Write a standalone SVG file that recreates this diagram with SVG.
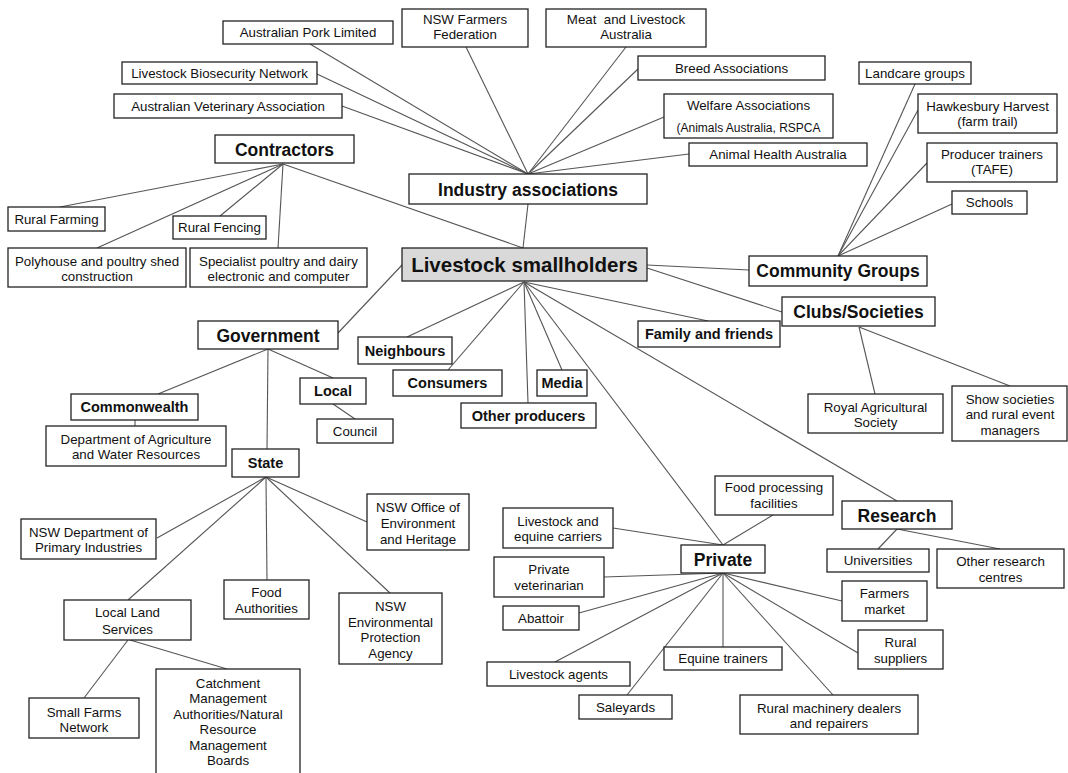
<svg xmlns="http://www.w3.org/2000/svg" width="1068" height="773" viewBox="0 0 1068 773">
<style>
.bg{fill:#fff}
.c line{stroke:#555;stroke-width:1.1}
.n rect{fill:#fff;stroke:#222;stroke-width:1.3}
.n text{font-family:"Liberation Sans",Arial,sans-serif;font-size:13.3px;fill:#111;text-anchor:middle}
.n text.s{font-size:12px}
.n text.b{font-weight:bold;font-size:14.5px}
.n text.h{font-weight:bold;font-size:17.5px}
.n text.m{font-weight:bold;font-size:20.5px}
#livestock-smallholders rect{fill:#d9d9d9}
</style>
<rect class="bg" x="0" y="0" width="1068" height="773"/>
<g id="connectors" class="c">
<line x1="528" y1="174" x2="310" y2="44"/>
<line x1="528" y1="174" x2="317" y2="74"/>
<line x1="528" y1="174" x2="342" y2="106"/>
<line x1="528" y1="174" x2="466" y2="47"/>
<line x1="528" y1="174" x2="626" y2="47"/>
<line x1="528" y1="174" x2="638" y2="69"/>
<line x1="528" y1="174" x2="664" y2="117"/>
<line x1="528" y1="174" x2="689" y2="154"/>
<line x1="528" y1="204" x2="523" y2="248"/>
<line x1="283" y1="164" x2="60" y2="207"/>
<line x1="283" y1="164" x2="97" y2="248"/>
<line x1="283" y1="164" x2="220" y2="216"/>
<line x1="283" y1="164" x2="278" y2="248"/>
<line x1="283" y1="164" x2="523" y2="248"/>
<line x1="838" y1="256" x2="915" y2="84"/>
<line x1="838" y1="256" x2="918" y2="110"/>
<line x1="838" y1="256" x2="927" y2="163"/>
<line x1="838" y1="256" x2="952" y2="204"/>
<line x1="647" y1="265" x2="749" y2="270"/>
<line x1="647" y1="268" x2="782" y2="312"/>
<line x1="859" y1="327" x2="875" y2="394"/>
<line x1="859" y1="327" x2="1010" y2="386"/>
<line x1="524" y1="282" x2="407" y2="337"/>
<line x1="524" y1="282" x2="448" y2="370"/>
<line x1="524" y1="282" x2="528" y2="403"/>
<line x1="524" y1="282" x2="562" y2="370"/>
<line x1="524" y1="282" x2="708" y2="321"/>
<line x1="524" y1="282" x2="723" y2="545"/>
<line x1="524" y1="282" x2="897" y2="501"/>
<line x1="402" y1="265" x2="338" y2="333"/>
<line x1="268" y1="349" x2="158" y2="394"/>
<line x1="268" y1="349" x2="333" y2="378"/>
<line x1="268" y1="349" x2="267" y2="449"/>
<line x1="135" y1="420" x2="135" y2="426"/>
<line x1="333" y1="404" x2="355" y2="419"/>
<line x1="266" y1="477" x2="157" y2="538"/>
<line x1="266" y1="477" x2="128" y2="600"/>
<line x1="266" y1="477" x2="267" y2="580"/>
<line x1="266" y1="477" x2="390" y2="593"/>
<line x1="266" y1="477" x2="367" y2="522"/>
<line x1="128" y1="640" x2="84" y2="698"/>
<line x1="130" y1="640" x2="227" y2="669"/>
<line x1="773" y1="515" x2="723" y2="545"/>
<line x1="613" y1="528" x2="723" y2="545"/>
<line x1="604" y1="577" x2="723" y2="573"/>
<line x1="579" y1="613" x2="723" y2="573"/>
<line x1="555" y1="662" x2="723" y2="573"/>
<line x1="627" y1="695" x2="723" y2="573"/>
<line x1="723" y1="647" x2="723" y2="573"/>
<line x1="842" y1="601" x2="723" y2="573"/>
<line x1="858" y1="653" x2="723" y2="573"/>
<line x1="833" y1="695" x2="723" y2="573"/>
<line x1="897" y1="529" x2="878" y2="549"/>
<line x1="897" y1="529" x2="1000" y2="549"/>
</g>
<g class="n">
<g id="australian-pork"><rect x="223" y="21" width="170" height="23"/><text x="308" y="37">Australian Pork Limited</text></g>
<g id="nsw-farmers"><rect x="402" y="9" width="126" height="38"/><text x="465" y="24">NSW Farmers</text><text x="465" y="39">Federation</text></g>
<g id="mla"><rect x="546" y="9" width="160" height="38"/><text x="626" y="24" xml:space="preserve">Meat  and Livestock</text><text x="626" y="39">Australia</text></g>
<g id="biosecurity"><rect x="122" y="62" width="195" height="22"/><text x="219.5" y="77.5">Livestock Biosecurity Network</text></g>
<g id="ava"><rect x="114" y="94" width="228" height="24"/><text x="228" y="110.5">Australian Veterinary Association</text></g>
<g id="breed"><rect x="638" y="56" width="187" height="24"/><text x="731.5" y="72.5">Breed Associations</text></g>
<g id="welfare"><rect x="664" y="94" width="169" height="44"/><text x="748.5" y="109.5">Welfare Associations</text><text class="s" x="748.5" y="132">(Animals Australia, RSPCA</text></g>
<g id="animal-health"><rect x="689" y="143" width="178" height="23"/><text x="778" y="159">Animal Health Australia</text></g>
<g id="industry"><rect x="409" y="174" width="238" height="30"/><text class="h" x="528" y="195.5">Industry associations</text></g>
<g id="contractors"><rect x="215" y="135" width="139" height="28"/><text class="h" x="284.5" y="155.5">Contractors</text></g>
<g id="rural-farming"><rect x="8" y="207" width="97" height="24"/><text x="56.5" y="223.5">Rural Farming</text></g>
<g id="rural-fencing"><rect x="173" y="216" width="93" height="23"/><text x="219.5" y="232">Rural Fencing</text></g>
<g id="polyhouse"><rect x="8" y="248" width="178" height="39"/><text x="97" y="265.5">Polyhouse and poultry shed</text><text x="97" y="280.5">construction</text></g>
<g id="specialist"><rect x="190" y="248" width="177" height="39"/><text x="278.5" y="265.5">Specialist poultry and dairy</text><text x="278.5" y="280.5">electronic and computer</text></g>
<g id="livestock-smallholders"><rect x="402" y="248" width="245" height="33"/><text class="m" x="524.5" y="272">Livestock smallholders</text></g>
<g id="landcare"><rect x="859" y="62" width="112" height="22"/><text x="915" y="77.5">Landcare groups</text></g>
<g id="hawkesbury"><rect x="918" y="94" width="139" height="39"/><text x="987.5" y="110.5">Hawkesbury Harvest</text><text x="987.5" y="126">(farm trail)</text></g>
<g id="producer-trainers"><rect x="927" y="143" width="130" height="39"/><text x="992" y="158.5">Producer trainers</text><text x="992" y="174">(TAFE)</text></g>
<g id="schools"><rect x="952" y="191" width="75" height="23"/><text x="989.5" y="207">Schools</text></g>
<g id="community"><rect x="749" y="256" width="178" height="30"/><text class="h" x="838" y="277">Community Groups</text></g>
<g id="clubs"><rect x="782" y="297" width="153" height="29"/><text class="h" x="858.5" y="317.5">Clubs/Societies</text></g>
<g id="family"><rect x="638" y="321" width="142" height="26"/><text class="b" x="709" y="339">Family and friends</text></g>
<g id="neighbours"><rect x="358" y="337" width="94" height="27"/><text class="b" x="405" y="355.5">Neighbours</text></g>
<g id="consumers"><rect x="393" y="370" width="109" height="26"/><text class="b" x="447.5" y="388">Consumers</text></g>
<g id="media"><rect x="537" y="370" width="50" height="26"/><text class="b" x="562" y="388">Media</text></g>
<g id="other-producers"><rect x="461" y="403" width="135" height="25"/><text class="b" x="528.5" y="420.5">Other producers</text></g>
<g id="government"><rect x="198" y="321" width="140" height="28"/><text class="h" x="268" y="341.5">Government</text></g>
<g id="commonwealth"><rect x="71" y="394" width="127" height="26"/><text class="b" x="134.5" y="412">Commonwealth</text></g>
<g id="dept-ag"><rect x="46" y="426" width="180" height="40"/><text x="136" y="443.5">Department of Agriculture</text><text x="136" y="458.5">and Water Resources</text></g>
<g id="local"><rect x="300" y="378" width="66" height="26"/><text class="b" x="333" y="396">Local</text></g>
<g id="council"><rect x="317" y="419" width="76" height="24"/><text x="355" y="435.5">Council</text></g>
<g id="state"><rect x="232" y="449" width="67" height="28"/><text class="b" x="265.5" y="468">State</text></g>
<g id="nsw-dpi"><rect x="21" y="519" width="135" height="40"/><text x="88.5" y="536.5">NSW Department of</text><text x="88.5" y="551.5">Primary Industries</text></g>
<g id="nsw-oeh"><rect x="367" y="494" width="102" height="56"/><text x="418" y="511.5">NSW Office of</text><text x="418" y="527.5">Environment</text><text x="418" y="543.5">and Heritage</text></g>
<g id="food-authorities"><rect x="224" y="580" width="85" height="39"/><text x="266.5" y="596.5">Food</text><text x="266.5" y="612.5">Authorities</text></g>
<g id="nsw-epa"><rect x="339" y="593" width="103" height="71"/><text x="390.5" y="610.5">NSW</text><text x="390.5" y="626.5">Environmental</text><text x="390.5" y="641.5">Protection</text><text x="390.5" y="657.5">Agency</text></g>
<g id="lls"><rect x="64" y="600" width="127" height="40"/><text x="127.5" y="616.5">Local Land</text><text x="127.5" y="633.5">Services</text></g>
<g id="small-farms"><rect x="29" y="698" width="110" height="40"/><text x="84" y="716.5">Small Farms</text><text x="84" y="731.5">Network</text></g>
<g id="catchment"><rect x="156" y="669" width="144" height="112"/><text x="228" y="687.5">Catchment</text><text x="228" y="703">Management</text><text x="228" y="718.5">Authorities/Natural</text><text x="228" y="734">Resource</text><text x="228" y="749.5">Management</text><text x="228" y="765">Boards</text></g>
<g id="food-processing"><rect x="715" y="476" width="118" height="39"/><text x="774" y="491.5">Food processing</text><text x="774" y="507.5">facilities</text></g>
<g id="carriers"><rect x="503" y="508" width="110" height="40"/><text x="558" y="525.5">Livestock and</text><text x="558" y="540.5">equine carriers</text></g>
<g id="private-vet"><rect x="494" y="557" width="110" height="40"/><text x="549" y="573.5">Private</text><text x="549" y="589.5">veterinarian</text></g>
<g id="abattoir"><rect x="503" y="606" width="76" height="24"/><text x="541" y="622.5">Abattoir</text></g>
<g id="private"><rect x="681" y="545" width="84" height="28"/><text class="h" x="723" y="565.5">Private</text></g>
<g id="livestock-agents"><rect x="487" y="662" width="143" height="24"/><text x="558.5" y="679">Livestock agents</text></g>
<g id="saleyards"><rect x="579" y="695" width="93" height="24"/><text x="625.5" y="712">Saleyards</text></g>
<g id="equine-trainers"><rect x="664" y="647" width="118" height="23"/><text x="723" y="663">Equine trainers</text></g>
<g id="rural-machinery"><rect x="740" y="695" width="178" height="39"/><text x="829" y="712.5">Rural machinery dealers</text><text x="829" y="727.5">and repairers</text></g>
<g id="farmers-market"><rect x="842" y="581" width="85" height="40"/><text x="884.5" y="597.5">Farmers</text><text x="884.5" y="613.5">market</text></g>
<g id="rural-suppliers"><rect x="858" y="630" width="85" height="39"/><text x="900.5" y="646.5">Rural</text><text x="900.5" y="662.5">suppliers</text></g>
<g id="research"><rect x="842" y="501" width="110" height="28"/><text class="h" x="897" y="521.5">Research</text></g>
<g id="universities"><rect x="827" y="549" width="102" height="23"/><text x="878" y="565">Universities</text></g>
<g id="other-research"><rect x="937" y="549" width="127" height="39"/><text x="1000.5" y="565.5">Other research</text><text x="1000.5" y="581.5">centres</text></g>
<g id="royal-ag"><rect x="808" y="394" width="135" height="39"/><text x="875.5" y="411.5">Royal Agricultural</text><text x="875.5" y="426.5">Society</text></g>
<g id="show-societies"><rect x="952" y="386" width="115" height="55"/><text x="1010" y="403.5">Show societies</text><text x="1010" y="418.5">and rural event</text><text x="1010" y="434.5">managers</text></g>
</g>
</svg>
